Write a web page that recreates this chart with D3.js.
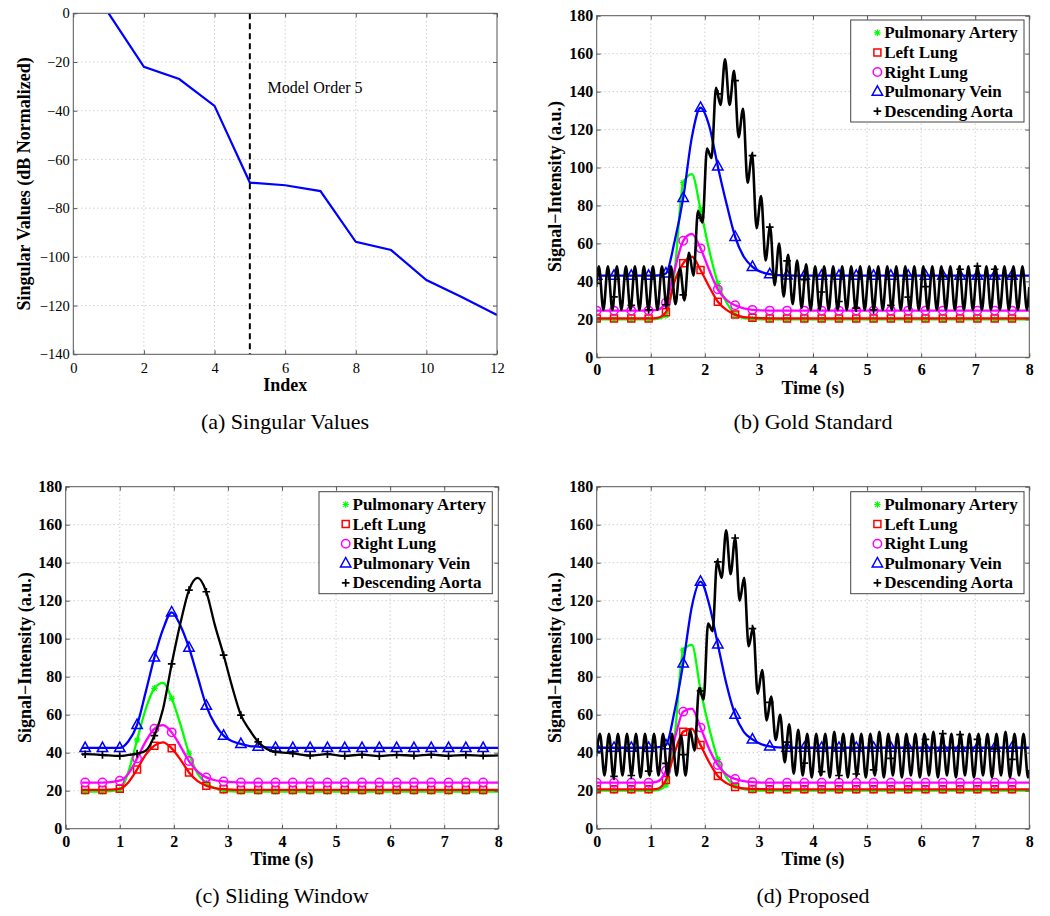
<!DOCTYPE html>
<html><head><meta charset="utf-8">
<script src="https://cdn.jsdelivr.net/npm/d3@7"></script>
<style>body{margin:0;background:#fff}svg{display:block}</style>
</head><body>
<svg id="chart" width="1050" height="916"></svg>
<script>
// ---------------- DATA ----------------
// (a) Singular values
const svIndex = [1,2,3,4,5,6,7,8,9,10,11,12];
const svValues = [0,-22,-27,-38,-69.5,-70.6,-73,-93.8,-97.2,-109.5,-116.5,-123.9];
const modelOrder = 5;
const svXTicks = [0,2,4,6,8,10,12];
const svYTicks = [-140,-120,-100,-80,-60,-40,-20,0];

// common
const seriesNames = ["Pulmonary Artery","Left Lung","Right Lung","Pulmonary Vein","Descending Aorta"];
const seriesColors = ["#00ff00","#ff0000","#ff00ff","#0000ff","#000000"];
const seriesMarkers = ["star","square","circle","triangle","plus"];
const timeTicks = [0,1,2,3,4,5,6,7,8];
const intensityTicks = [0,20,40,60,80,100,120,140,160,180];

// (b) Gold standard & (d) Proposed: smooth-curve sample times
const tFull = [0,0.16,0.32,0.48,0.64,0.8,0.96,1.12,1.28,1.44,1.6,1.76,1.92,2.08,2.24,2.4,2.56,2.72,2.88,3.04,3.2,3.36,3.52,3.84,4.16,4.48,4.8,5.12,5.44,5.76,6.08,6.4,6.72,7.04,7.36,7.68,8];
const markerTimesFull = [0,0.32,0.64,0.96,1.28,1.6,1.92,2.24,2.56,2.88,3.2,3.52,3.84,4.16,4.48,4.8,5.12,5.44,5.76,6.08,6.4,6.72,7.04,7.36,7.68];

const goldPA = [20,20,20,20,20,20,20,20.3,22,45,92,96.5,78,56.5,39,29,22.5,20.6,20.2,20,20,20,20,20,20,20,20,20,20,20,20,20,20,20,20,20,20];
const goldLL = [20.5,20.5,20.5,20.5,20.5,20.5,20.5,20.8,23.8,40,49.5,53,46,37.2,29.3,25,22.5,21.2,20.8,20.6,20.5,20.5,20.5,20.5,20.5,20.5,20.5,20.5,20.5,20.5,20.5,20.5,20.5,20.5,20.5,20.5,20.5];
const goldRL = [24.6,24.6,24.6,24.6,24.6,24.6,24.6,25,28.8,46,61.4,65,57.4,46,35.8,30.2,27.4,25.8,25,24.7,24.6,24.6,24.6,24.6,24.6,24.6,24.6,24.6,24.6,24.6,24.6,24.6,24.6,24.6,24.6,24.6,24.6];
const goldPV = [43,43,43,43,43,43,43,43.1,44.2,61,84,116,131.5,122,100.6,81,63.5,53,47.7,45,43.8,43.3,43.1,43,43,43,43,43,43,43,43,43,43,43,43,43,43];

const propPA = [20,20,20,20,20,20,20,20.3,23,48,94,96.8,73,53,36.5,27,22.5,20.8,20.2,20,20,20,20,20,20,20,20,20,20,20,20,20,20,20,20,20,20];
const propLL = [20.7,20.7,20.7,20.7,20.7,20.7,20.7,21,25.6,40,51,52.6,44,35,27.7,24,22,21.2,20.9,20.8,20.7,20.7,20.7,20.7,20.7,20.7,20.7,20.7,20.7,20.7,20.7,20.7,20.7,20.7,20.7,20.7,20.7];
const propRL = [24.2,24.2,24.2,24.2,24.2,24.2,24.2,24.8,30.5,47,61.6,63.2,53.2,42,33.5,28.5,26.2,25,24.5,24.3,24.2,24.2,24.2,24.2,24.2,24.2,24.2,24.2,24.2,24.2,24.2,24.2,24.2,24.2,24.2,24.2,24.2];
const propPV = [42.6,42.6,42.6,42.6,42.6,42.6,42.6,42.8,44,62,87,117,130,118,97,76,60,51,47,44.5,43.3,42.8,42.6,42.6,42.6,42.6,42.6,42.6,42.6,42.6,42.6,42.6,42.6,42.6,42.6,42.6,42.6];

// Descending aorta (oscillating): samples at every peak / trough, half-period 1/12 s
const aortaHalfPeriod = 1/12;
const aortaGoldStart = 0.04;
const aortaPropStart = 0.06;
const aortaGold = [39,
 48,25,48,25,48,25,48,25,48,25,48,25,48,25,
 48,27,48,28,47,30,55,43,77,71,
 110,105,142,133,157,133,151,116,131,92,
 107,68,85,51,69,38,60,32,54,28,51,26,
 49,25,48,25,48,25,48,25,48,25,
 48,25,48,25,48,25,48,25,48,25,
 48,25,48,25,48,25,48,25,48,25,
 48,25,48,25,48,25,48,25,48,25,
 48,25,48,25,48,25,48,25,48,25,
 37];
const aortaGoldMarkers = [39,31.8,27.4,25,27.7,32.9,73.5,138.8,145.8,106.3,68.6,50.8,40.9,34.4,29.4,25.9,25,27.4,31.7,37.2,42.5,46.4,48,46.4,42.5];
const aortaProp = [40,
 50,28,50,27,50,28,50,28,50,27,50,28,50,28,
 50,28,50,28,49,28,52,41,74,68,
 108,104,141,132,157,134,153,120,132,96,
 106,71,83.5,57,69.5,46.7,60,35,55,29,52,28,
 50,27,50,28,50,27,51,28,50,27,
 50,28,50,27,50,28,51,27,50,28,
 50,27,50,28,50,27,50,28,51,27,
 50,28,50,27,50,28,50,27,50,28,
 50,27,50,28,51,27,50,28,50,27,
 31];
const aortaPropMarkers = [40,27.5,28,30.3,34.4,39,72.5,140.4,153,105.3,66.5,45.6,34.5,30,28,28.8,31,37,42.3,47,50,49.5,47,42,36.5];

// (c) Sliding window
const tSW = [0.3,0.36,0.68,1.0,1.16,1.32,1.48,1.64,1.8,1.96,2.12,2.28,2.44,2.6,2.76,2.92,3.08,3.24,3.4,3.56,3.72,3.88,4.2,4.52,4.84,5.16,5.48,5.8,6.12,6.44,6.76,7.08,7.4,7.72,8];
const markerTimesSW = [0.36,0.68,1.0,1.32,1.64,1.96,2.28,2.6,2.92,3.24,3.56,3.88,4.2,4.52,4.84,5.16,5.48,5.8,6.12,6.44,6.76,7.08,7.4,7.72];
const swPA = [19.5,19.5,19.5,20.5,30,46.7,63,73.9,76.8,68.6,55,39.7,29,24,21.3,20,19.6,19.5,19.5,19.5,19.5,19.5,19.5,19.5,19.5,19.5,19.5,19.5,19.5,19.5,19.5,19.5,19.5,19.5,19.5];
const swLL = [20.4,20.4,20.4,21,24.5,31.2,39,43.7,45.4,42.3,36.5,29.6,25,22.6,21.3,20.8,20.5,20.4,20.4,20.4,20.4,20.4,20.4,20.4,20.4,20.4,20.4,20.4,20.4,20.4,20.4,20.4,20.4,20.4,20.4];
const swRL = [24.3,24.3,24.3,25.3,29,37,46,52.6,54.5,50.7,43.5,35.6,30,27,25.5,24.9,24.5,24.3,24.3,24.3,24.3,24.3,24.3,24.3,24.3,24.3,24.3,24.3,24.3,24.3,24.3,24.3,24.3,24.3,24.3];
const swPV = [42.5,42.5,42.5,42.5,46,54.6,72,90.2,105,113.9,107,95.3,80,64.7,55,49,46,44.6,43.5,43.2,42.8,42.6,42.5,42.5,42.5,42.5,42.5,42.5,42.5,42.5,42.5,42.5,42.5,42.5,42.5];
const swDA = [39,39.2,38.8,38.3,38.8,39.5,41,49,63,86.7,108,125.6,132,124.7,107,91.4,74.5,59.8,52,45.7,42,40.4,39.6,38.5,39.2,38.3,39,38.2,38.9,38.4,39,38.3,38.8,38.4,38.6];

// ---------------- DRAWING ----------------
const FONT = "'Liberation Serif','Times New Roman',Times,serif";
const svg = d3.select("#chart");
let clipId = 0;

function drawMarker(g, type, cx, cy, color) {
  const s = g.append("path").attr("fill", "none").attr("stroke", color).attr("stroke-width", 1.5);
  if (type === "star") {
    s.attr("d", `M${cx-3.2},${cy}H${cx+3.2}M${cx},${cy-3.2}V${cy+3.2}M${cx-2.4},${cy-2.4}L${cx+2.4},${cy+2.4}M${cx-2.4},${cy+2.4}L${cx+2.4},${cy-2.4}`).attr("stroke-width", 1.2);
  } else if (type === "square") {
    s.attr("d", `M${cx-3.5},${cy-3.5}h7v7h-7Z`);
  } else if (type === "circle") {
    s.attr("d", d3.arc()({innerRadius: 0, outerRadius: 4.2, startAngle: 0, endAngle: 2*Math.PI})).attr("transform", `translate(${cx},${cy})`);
  } else if (type === "triangle") {
    s.attr("d", `M${cx},${cy-5.8}L${cx+5.2},${cy+3.6}L${cx-5.2},${cy+3.6}Z`);
  } else if (type === "plus") {
    s.attr("d", `M${cx-3.8},${cy}H${cx+3.8}M${cx},${cy-3.8}V${cy+3.8}`).attr("stroke-width", 1.7);
  }
}

function setupPanel(cfg) {
  const g = svg.append("g");
  const x = d3.scaleLinear().domain(cfg.xDomain).range([cfg.left, cfg.right]);
  const y = d3.scaleLinear().domain(cfg.yDomain).range([cfg.bottom, cfg.top]);
  const gridColor = "#b8b8b8";
  g.append("g").selectAll("line").data(cfg.xTicks.filter(v => v > cfg.xDomain[0] && v < cfg.xDomain[1]))
    .join("line").attr("x1", d => x(d)).attr("x2", d => x(d)).attr("y1", cfg.top).attr("y2", cfg.bottom)
    .attr("stroke", gridColor).attr("stroke-dasharray", "1,3");
  g.append("g").selectAll("line").data(cfg.yTicks.filter(v => v > cfg.yDomain[0] && v < cfg.yDomain[1]))
    .join("line").attr("y1", d => y(d)).attr("y2", d => y(d)).attr("x1", cfg.left).attr("x2", cfg.right)
    .attr("stroke", gridColor).attr("stroke-dasharray", "1,3");
  const id = "clip" + (clipId++);
  svg.append("clipPath").attr("id", id).append("rect")
    .attr("x", cfg.left).attr("y", cfg.top).attr("width", cfg.right - cfg.left).attr("height", cfg.bottom - cfg.top);
  const data = g.append("g").attr("clip-path", `url(#${id})`);
  return {g, x, y, data, cfg};
}

function finishPanel(P) {
  const {g, x, y, cfg} = P;
  const fw = cfg.boldTicks ? "bold" : "normal";
  const styleAxis = sel => {
    sel.select(".domain").remove();
    sel.selectAll("line").attr("stroke", "#555");
    sel.selectAll("text").attr("font-family", FONT).attr("font-size", cfg.tickSize).attr("font-weight", fw).attr("fill", "#000");
  };
  g.append("g").attr("transform", `translate(0,${cfg.bottom})`)
    .call(d3.axisBottom(x).tickValues(cfg.xTicks).tickSize(-4).tickPadding(cfg.xPad)).call(styleAxis);
  g.append("g").attr("transform", `translate(${cfg.left},0)`)
    .call(d3.axisLeft(y).tickValues(cfg.yTicks).tickSize(-4).tickPadding(cfg.yPad)).call(styleAxis);
  g.append("g").attr("transform", `translate(0,${cfg.top})`)
    .call(d3.axisTop(x).tickValues(cfg.xTicks).tickSize(-4).tickFormat("")).call(styleAxis);
  g.append("g").attr("transform", `translate(${cfg.right},0)`)
    .call(d3.axisRight(y).tickValues(cfg.yTicks).tickSize(-4).tickFormat("")).call(styleAxis);
  g.append("rect").attr("x", cfg.left).attr("y", cfg.top).attr("width", cfg.right - cfg.left)
    .attr("height", cfg.bottom - cfg.top).attr("fill", "none").attr("stroke", "#555").attr("stroke-width", 1);
  g.append("text").attr("x", (cfg.left + cfg.right) / 2).attr("y", cfg.xLabelY)
    .attr("text-anchor", "middle").attr("dominant-baseline", "central")
    .attr("font-family", FONT).attr("font-weight", "bold").attr("font-size", 18).text(cfg.xLabel);
  g.append("text").attr("transform", `translate(${cfg.yLabelX},${(cfg.top + cfg.bottom) / 2}) rotate(-90)`)
    .attr("text-anchor", "middle").attr("dominant-baseline", "central")
    .attr("font-family", FONT).attr("font-weight", "bold").attr("font-size", 18).text(cfg.yLabel);
  g.append("text").attr("x", cfg.captionX).attr("y", cfg.captionY)
    .attr("text-anchor", "middle").attr("dominant-baseline", "central")
    .attr("font-family", FONT).attr("font-size", 22).text(cfg.caption);
}

function drawSeries(P, times, values, k, markerTimes, markerValues, width) {
  const line = d3.line().x((d, i) => P.x(times[i])).y(d => P.y(d)).curve(d3.curveMonotoneX);
  P.data.append("path").datum(values).attr("d", line).attr("fill", "none")
    .attr("stroke", seriesColors[k]).attr("stroke-width", width || 2.3).attr("stroke-linejoin", "round");
  const mg = P.data.append("g");
  if (markerValues) {
    markerTimes.forEach((t, i) => drawMarker(mg, seriesMarkers[k], P.x(t), P.y(markerValues[i]), seriesColors[k]));
  } else {
    times.forEach((t, i) => {
      if (markerTimes.some(m => Math.abs(m - t) < 1e-6)) drawMarker(mg, seriesMarkers[k], P.x(t), P.y(values[i]), seriesColors[k]);
    });
  }
}

function drawLegend(P, bx, by) {
  const g = P.g.append("g");
  g.append("rect").attr("x", bx).attr("y", by).attr("width", 173.3).attr("height", 102)
    .attr("fill", "#fff").attr("stroke", "#444").attr("stroke-width", 1);
  seriesNames.forEach((n, i) => {
    const cy = by + 12.8 + i * 19.6;
    drawMarker(g, seriesMarkers[i], bx + 26.7, cy, seriesColors[i]);
    g.append("text").attr("x", bx + 33.5).attr("y", cy).attr("dominant-baseline", "central")
      .attr("font-family", FONT).attr("font-weight", "bold").attr("font-size", 17).text(n);
  });
}

// ---- Panel (a)
const PA = setupPanel({left: 73.3, right: 497, top: 13.3, bottom: 354.3,
  xDomain: [0, 12], yDomain: [-140, 0], xTicks: svXTicks, yTicks: svYTicks});
Object.assign(PA.cfg, {boldTicks: false, tickSize: 14.5, xPad: 8.5, yPad: 3.5,
  xLabel: "Index", xLabelY: 385, yLabel: "Singular Values (dB Normalized)", yLabelX: 24,
  caption: "(a) Singular Values", captionX: 285, captionY: 421});
PA.data.append("path").datum(svValues)
  .attr("d", d3.line().x((d, i) => PA.x(svIndex[i])).y(d => PA.y(d)))
  .attr("fill", "none").attr("stroke", "#0000ff").attr("stroke-width", 2.2);
PA.data.append("line").attr("x1", PA.x(modelOrder)).attr("x2", PA.x(modelOrder))
  .attr("y1", PA.y(0)).attr("y2", PA.y(-140)).attr("stroke", "#000").attr("stroke-width", 2).attr("stroke-dasharray", "6,4");
PA.g.append("text").attr("x", PA.x(modelOrder + 0.5)).attr("y", PA.y(-30.4)).attr("dominant-baseline", "central")
  .attr("font-family", FONT).attr("font-size", 16).text("Model Order " + modelOrder);
finishPanel(PA);

// ---- intensity panels
function intensityPanel(left, right, top, bottom, caption, captionX, captionY, yLabelX) {
  const P = setupPanel({left, right, top, bottom, xDomain: [0, 8], yDomain: [0, 180], xTicks: timeTicks, yTicks: intensityTicks});
  Object.assign(P.cfg, {boldTicks: true, tickSize: 16, xPad: 6.6, yPad: 3.5,
    xLabel: "Time (s)", xLabelY: bottom + 30.5, yLabel: "Signal\u2212Intensity (a.u.)", yLabelX,
    caption, captionX, captionY});
  return P;
}

// (b)
const PB = intensityPanel(596.7, 1029.3, 15.7, 357.3, "(b) Gold Standard", 813, 421, 555);
const goldAortaT = [0].concat(d3.range(96).map(i => aortaGoldStart + i * aortaHalfPeriod), [8]);
drawSeries(PB, tFull, goldPA, 0, markerTimesFull);
drawSeries(PB, tFull, goldLL, 1, markerTimesFull);
drawSeries(PB, tFull, goldRL, 2, markerTimesFull);
drawSeries(PB, tFull, goldPV, 3, markerTimesFull);
drawSeries(PB, goldAortaT, aortaGold, 4, markerTimesFull, aortaGoldMarkers, 2.6);
finishPanel(PB);
drawLegend(PB, 850.7, 20);

// (c)
const PC = intensityPanel(65.7, 498.3, 486.7, 828.7, "(c) Sliding Window", 282, 895, 25);
drawSeries(PC, tSW, swPA, 0, markerTimesSW);
drawSeries(PC, tSW, swLL, 1, markerTimesSW);
drawSeries(PC, tSW, swRL, 2, markerTimesSW);
drawSeries(PC, tSW, swPV, 3, markerTimesSW);
drawSeries(PC, tSW, swDA, 4, markerTimesSW);
finishPanel(PC);
drawLegend(PC, 319, 491.7);

// (d)
const PD = intensityPanel(596.7, 1029.3, 486.7, 828.7, "(d) Proposed", 813, 895, 555);
const propAortaT = [0].concat(d3.range(96).map(i => aortaPropStart + i * aortaHalfPeriod), [8]);
drawSeries(PD, tFull, propPA, 0, markerTimesFull);
drawSeries(PD, tFull, propLL, 1, markerTimesFull);
drawSeries(PD, tFull, propRL, 2, markerTimesFull);
drawSeries(PD, tFull, propPV, 3, markerTimesFull);
drawSeries(PD, propAortaT, aortaProp, 4, markerTimesFull, aortaPropMarkers, 2.6);
finishPanel(PD);
drawLegend(PD, 850.7, 491.7);
</script>
</body></html>
